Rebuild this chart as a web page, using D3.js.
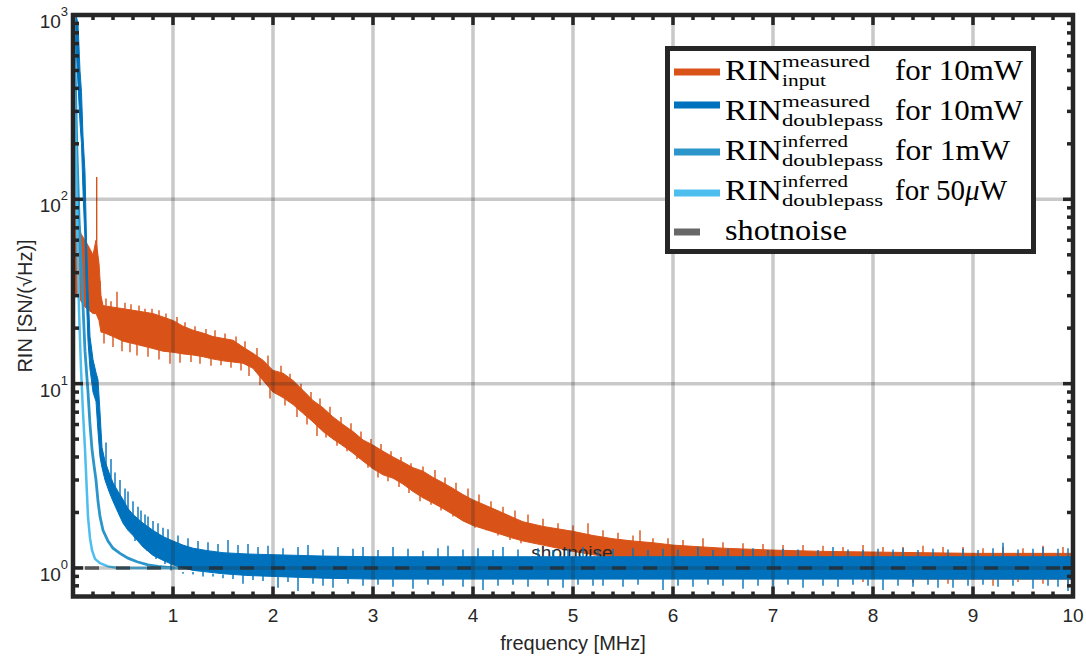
<!DOCTYPE html>
<html>
<head>
<meta charset="utf-8">
<script src="https://cdn.jsdelivr.net/npm/d3@7"></script>
<style>
  body { margin: 0; background: #fff; }
  svg { display: block; }
</style>
</head>
<body>
<svg id="chart" width="1086" height="659"></svg>
<script>
// RIN input (10mW), envelope of the noisy trace
const orangeF  = [0.003, 0.01, 0.05, 0.08, 0.12, 0.16, 0.2, 0.23, 0.26, 0.28, 0.3, 0.4, 0.5, 0.6, 0.7, 0.8, 0.9, 1.0, 1.1, 1.2, 1.3, 1.4, 1.5, 1.6, 1.7, 1.8, 1.9, 2.0, 2.1, 2.2, 2.3, 2.4, 2.5, 2.6, 2.7, 2.8, 2.9, 3.0, 3.1, 3.2, 3.3, 3.4, 3.5, 3.6, 3.7, 3.8, 3.9, 4.0, 4.2, 4.4, 4.5, 4.7, 5.0, 5.2, 5.4, 5.6, 5.8, 6.0, 6.5, 7.0, 7.5, 8.0, 8.5, 9.0, 10]
const orangeLo = [5.8, 30, 30, 28, 26, 25, 24, 24, 22, 19, 19, 18, 17, 16.5, 16, 15.5, 15, 14.8, 14.5, 14.3, 14, 13.6, 13.3, 13.1, 12.9, 12.1, 10.4, 9.0, 8.4, 7.7, 6.9, 6.2, 5.5, 5.0, 4.6, 4.2, 3.8, 3.45, 3.2, 3.07, 2.85, 2.6, 2.4, 2.25, 2.1, 1.95, 1.8, 1.7, 1.57, 1.45, 1.4, 1.33, 1.23, 1.18, 1.13, 1.1, 1.07, 1.03, 0.97, 0.93, 0.9, 0.88, 0.87, 0.87, 0.87]
const orangeHi = [70, 80, 80, 65, 60, 55, 50, 60, 45, 30, 26.5, 26, 25.5, 25, 24.5, 24, 23, 22, 20.5, 19.5, 18.8, 18, 17.6, 17.2, 15.8, 14.6, 13.4, 11.8, 11.4, 10.4, 9.2, 8.1, 7.4, 6.6, 6.0, 5.5, 4.95, 4.64, 4.3, 4.0, 3.75, 3.5, 3.35, 3.1, 2.9, 2.7, 2.5, 2.34, 2.1, 1.88, 1.78, 1.68, 1.58, 1.5, 1.44, 1.4, 1.37, 1.33, 1.28, 1.25, 1.23, 1.22, 1.21, 1.2, 1.2]
// noise spikes: [frequency, base, tip]
const orangeSpikes = [
  [0.03, 40, 260], [0.237, 40, 132], [0.27, 25, 36],
  [0.33, 24, 29], [0.38, 24, 28], [0.44, 24, 31.5], [0.52, 23, 27.5], [0.58, 23, 27], [0.66, 22, 26.5], [0.72, 22, 25.5], [0.79, 21, 25.5], [0.86, 21, 25], [0.93, 20, 24], [1.04, 19, 23], [1.12, 18, 21.5], [1.22, 18, 20.5], [1.33, 17, 19.8], [1.42, 17, 19.5], [1.52, 16, 18.7], [1.63, 15.5, 18], [1.72, 15, 17], [1.84, 13.5, 15.6], [1.95, 12, 14.2],
  [0.31, 21, 16.5], [0.4, 20, 15.8], [0.49, 19, 15], [0.57, 19, 14.8], [0.64, 18, 14.2], [0.75, 18, 14], [0.86, 17, 13.5], [0.97, 16, 12.8], [1.07, 16, 13], [1.18, 16, 13.1], [1.27, 15.5, 12.8], [1.38, 15, 12.5], [1.48, 15, 12.6], [1.58, 14.5, 12.2], [1.68, 14, 11.8], [1.76, 13, 11], [1.87, 12, 9.8], [1.97, 10, 8.3],
  [2.08, 10.5, 12.5], [2.17, 9.5, 11.3], [2.28, 8.5, 10], [2.38, 7.5, 9], [2.47, 7, 8.3], [2.57, 6.2, 7.5], [2.68, 5.6, 6.6], [2.78, 5.2, 6.1], [2.88, 4.7, 5.5], [2.98, 4.2, 5.0], [3.08, 3.9, 4.7], [3.18, 3.6, 4.3], [3.28, 3.3, 4.0], [3.38, 3.1, 3.7], [3.5, 2.9, 3.55], [3.62, 2.7, 3.4], [3.72, 2.5, 3.1], [3.83, 2.4, 2.9], [3.95, 2.2, 2.7], [4.06, 2.05, 2.5], [4.18, 1.95, 2.3], [4.3, 1.8, 2.15], [4.42, 1.7, 2.05],
  [2.12, 9, 7.6], [2.24, 8, 6.6], [2.34, 7, 6.0], [2.44, 6.5, 5.2], [2.53, 6, 5.1], [2.64, 5.5, 4.6], [2.74, 5, 4.3], [2.84, 4.6, 3.9], [2.95, 4.2, 3.5], [3.05, 3.7, 3.1], [3.15, 3.5, 2.95], [3.26, 3.2, 2.75], [3.36, 3.0, 2.55], [3.47, 2.8, 2.3], [3.58, 2.6, 2.2], [3.68, 2.45, 2.05], [3.8, 2.3, 1.9], [3.9, 2.15, 1.8], [4.02, 2.0, 1.65], [4.13, 1.9, 1.6], [4.25, 1.8, 1.5], [4.37, 1.7, 1.42], [4.48, 1.6, 1.36],
  [4.55, 1.6, 1.95], [4.7, 1.55, 1.85], [4.85, 1.5, 1.75], [5.0, 1.45, 1.7], [5.15, 1.4, 1.75], [5.3, 1.35, 1.6], [5.45, 1.35, 1.55], [5.6, 1.3, 1.5], [5.67, 1.3, 1.6], [5.8, 1.25, 1.45], [5.95, 1.25, 1.45], [6.1, 1.2, 1.42], [6.3, 1.2, 1.45], [6.5, 1.2, 1.38], [6.7, 1.18, 1.36], [6.9, 1.17, 1.35], [7.1, 1.17, 1.33], [7.3, 1.17, 1.33], [7.5, 1.16, 1.32], [7.7, 1.16, 1.3], [7.9, 1.16, 1.33], [8.1, 1.15, 1.3], [8.3, 1.15, 1.3], [8.5, 1.15, 1.32], [8.7, 1.15, 1.3], [8.9, 1.15, 1.3], [9.1, 1.15, 1.28], [9.3, 1.15, 1.3], [9.5, 1.15, 1.28], [9.7, 1.15, 1.32], [9.9, 1.15, 1.3],
  [7.9, 0.9, 0.84], [8.4, 0.9, 0.83], [8.75, 0.9, 0.82], [9.2, 0.9, 0.8], [9.45, 0.9, 0.84], [9.7, 0.9, 0.82], [9.95, 0.9, 0.81]
]

// RIN doublepass measured (10mW)
const blueF  = [0.03, 0.05, 0.07, 0.085, 0.1, 0.12, 0.135, 0.15, 0.17, 0.2, 0.23, 0.25, 0.27, 0.29, 0.32, 0.36, 0.4, 0.45, 0.5, 0.55, 0.6, 0.7, 0.8, 0.9, 1.0, 1.1, 1.2, 1.35, 1.5, 1.75, 2.0, 2.5, 3, 4, 5, 6, 7, 8, 9, 10]
const blueLo = [700, 420, 260, 200, 110, 60, 28, 17, 12, 9, 8, 5.5, 4, 3.5, 3.0, 2.6, 2.3, 2.0, 1.75, 1.6, 1.5, 1.3, 1.17, 1.1, 1.04, 1.0, 0.97, 0.95, 0.93, 0.91, 0.9, 0.88, 0.87, 0.87, 0.87, 0.87, 0.87, 0.87, 0.87, 0.87]
const blueHi = [1000, 900, 500, 380, 220, 140, 60, 32, 18, 13.5, 11.5, 10.5, 7, 4.5, 3.8, 3.3, 2.9, 2.6, 2.35, 2.1, 1.95, 1.75, 1.6, 1.48, 1.4, 1.33, 1.28, 1.24, 1.21, 1.19, 1.18, 1.16, 1.15, 1.15, 1.15, 1.15, 1.15, 1.15, 1.15, 1.15]
const blueSpikes = [
  [0.33, 3.5, 4.8], [0.38, 3.1, 3.9], [0.42, 2.6, 3.3], [0.47, 2.4, 3.0], [0.52, 2.1, 2.7], [0.55, 1.9, 2.6], [0.6, 1.8, 2.3], [0.65, 1.7, 2.15], [0.68, 1.6, 2.05], [0.72, 1.55, 1.95], [0.75, 1.5, 1.9], [0.8, 1.4, 1.8], [0.85, 1.35, 1.75], [0.9, 1.3, 1.65], [0.95, 1.3, 1.62],
  [0.62, 1.6, 1.4], [0.74, 1.4, 1.24], [0.83, 1.3, 1.12], [0.92, 1.2, 1.05], [0.98, 1.15, 0.97],
  [1.05, 1.1, 1.5], [1.15, 1.1, 1.45], [1.25, 1.1, 1.4], [1.35, 1.1, 1.38], [1.45, 1.1, 1.35], [1.55, 1.1, 1.42], [1.65, 1.1, 1.33], [1.75, 1.1, 1.35], [1.85, 1.1, 1.3], [1.95, 1.1, 1.32],
  [2.1, 1.1, 1.28], [2.25, 1.1, 1.3], [2.35, 1.1, 1.33], [2.5, 1.1, 1.26], [2.65, 1.1, 1.3], [2.8, 1.1, 1.27], [2.9, 1.1, 1.3], [3.05, 1.1, 1.25], [3.2, 1.1, 1.3], [3.35, 1.1, 1.27], [3.5, 1.1, 1.24], [3.65, 1.1, 1.28], [3.75, 1.1, 1.32], [3.9, 1.1, 1.26], [4.05, 1.1, 1.28], [4.2, 1.1, 1.25], [4.3, 1.1, 1.3], [4.45, 1.1, 1.26], [4.65, 1.1, 1.28], [4.8, 1.1, 1.25], [4.95, 1.1, 1.27], [5.1, 1.1, 1.3], [5.25, 1.1, 1.25], [5.4, 1.1, 1.27], [5.6, 1.1, 1.28], [5.75, 1.1, 1.25], [5.9, 1.1, 1.27], [6.05, 1.1, 1.26], [6.25, 1.1, 1.3], [6.4, 1.1, 1.25], [6.55, 1.1, 1.27], [6.7, 1.1, 1.26], [6.8, 1.1, 1.28], [6.95, 1.1, 1.25], [7.1, 1.1, 1.27], [7.25, 1.1, 1.26], [7.45, 1.1, 1.25], [7.6, 1.1, 1.3], [7.75, 1.1, 1.26], [7.9, 1.1, 1.25], [8.05, 1.1, 1.27], [8.2, 1.1, 1.26], [8.3, 1.1, 1.28], [8.45, 1.1, 1.25], [8.6, 1.1, 1.27], [8.75, 1.1, 1.26], [8.9, 1.1, 1.27], [9.05, 1.1, 1.25], [9.2, 1.1, 1.28], [9.3, 1.1, 1.37], [9.45, 1.1, 1.26], [9.6, 1.1, 1.27], [9.7, 1.1, 1.3], [9.85, 1.1, 1.27], [9.95, 1.1, 1.28],
  [1.1, 0.95, 0.93], [1.2, 0.95, 0.92], [1.3, 0.95, 0.9], [1.4, 0.93, 0.9], [1.5, 0.92, 0.88], [1.6, 0.92, 0.87], [1.7, 0.92, 0.82], [1.8, 0.92, 0.86], [1.9, 0.92, 0.85], [2.05, 0.9, 0.78], [2.15, 0.9, 0.84], [2.25, 0.9, 0.75], [2.4, 0.9, 0.82], [2.5, 0.9, 0.8], [2.6, 0.9, 0.78], [2.75, 0.9, 0.82], [2.9, 0.9, 0.8], [3.05, 0.9, 0.81], [3.2, 0.9, 0.79], [3.4, 0.9, 0.77], [3.55, 0.9, 0.81], [3.7, 0.9, 0.8], [3.9, 0.9, 0.79], [4.1, 0.9, 0.76], [4.25, 0.9, 0.8], [4.4, 0.9, 0.81], [4.55, 0.9, 0.79], [4.75, 0.9, 0.8], [4.9, 0.9, 0.78], [5.05, 0.9, 0.81], [5.2, 0.9, 0.8], [5.3, 0.9, 0.8], [5.5, 0.9, 0.79], [5.65, 0.9, 0.81], [5.9, 0.9, 0.76], [6.05, 0.9, 0.8], [6.2, 0.9, 0.79], [6.35, 0.9, 0.81], [6.5, 0.9, 0.8], [6.7, 0.9, 0.77], [6.85, 0.9, 0.8], [7.0, 0.9, 0.79], [7.15, 0.9, 0.81], [7.3, 0.9, 0.78], [7.5, 0.9, 0.8], [7.65, 0.9, 0.79], [7.8, 0.9, 0.81], [7.95, 0.9, 0.8], [8.1, 0.9, 0.76], [8.25, 0.9, 0.8], [8.4, 0.9, 0.79], [8.55, 0.9, 0.81], [8.65, 0.9, 0.78], [8.8, 0.9, 0.78], [8.95, 0.9, 0.8], [9.1, 0.9, 0.81], [9.25, 0.9, 0.79], [9.4, 0.9, 0.8], [9.6, 0.9, 0.77], [9.75, 0.9, 0.8], [9.85, 0.9, 0.79], [9.95, 0.9, 0.75]
]

// RIN doublepass inferred (1mW, 50uW)
const midF = [0.01, 0.025, 0.04, 0.06, 0.09, 0.12, 0.15, 0.17, 0.19, 0.21, 0.23, 0.25, 0.27, 0.3, 0.35, 0.4, 0.47, 0.55, 0.64, 0.75, 0.85, 1.0, 10]
const midV = [1000, 400, 180, 80, 35, 15, 9, 6, 4.4, 3.6, 3.0, 2.3, 1.9, 1.6, 1.4, 1.28, 1.2, 1.13, 1.08, 1.04, 1.02, 1.0, 1.0]
const lightF = [0.005, 0.02, 0.04, 0.06, 0.08, 0.1, 0.12, 0.14, 0.15, 0.17, 0.19, 0.22, 0.27, 0.35, 0.45, 10]
const lightV = [1000, 300, 80, 25, 12, 7, 4.4, 2.5, 1.9, 1.45, 1.25, 1.12, 1.06, 1.02, 1.0, 1.0]

const shotNoise = 1
const xTicks = [1, 2, 3, 4, 5, 6, 7, 8, 9, 10]
const yDecades = [0, 1, 2, 3]

const colors = { orange: '#D95319', blue: '#0072BD', mid: '#2C96CB', light: '#4DBEEE', ax: '#262626' }

function draw() {
  const svg = d3.select('#chart')
  const x = d3.scaleLinear().domain([0, 10]).range([73, 1073])
  const y = d3.scaleLog().domain([0.7, 1000]).range([596.5, 15])
  const left = x(0), right = x(10), top = y(1000), bottom = y(0.7)

  svg.append('rect').attr('width', 1086).attr('height', 659).attr('fill', '#fff')

  svg.append('defs').append('clipPath').attr('id', 'clip')
    .append('rect').attr('x', left).attr('y', top).attr('width', right - left).attr('height', bottom - top)
  const plot = svg.append('g').attr('clip-path', 'url(#clip)')

  const band = (f, lo, hi) => d3.area()
    .x((d, i) => x(f[i])).y0((d, i) => y(lo[i])).y1((d, i) => y(hi[i]))(f)
  const line = (f, v) => d3.line().x((d, i) => x(f[i])).y((d, i) => y(v[i]))(f)

  function spikes(list, color) {
    plot.append('g').selectAll('line').data(list).join('line')
      .attr('x1', d => x(d[0])).attr('x2', d => x(d[0]))
      .attr('y1', d => y(d[1])).attr('y2', d => y(d[2]))
      .attr('stroke', color).attr('stroke-width', 1.4)
  }

  // orange trace
  plot.append('path').attr('d', band(orangeF, orangeLo, orangeHi))
    .attr('fill', colors.orange).attr('stroke', colors.orange).attr('stroke-width', 1)
  spikes(orangeSpikes, colors.orange)

  // shotnoise label sits under the blue traces
  plot.append('text').attr('x', 572).attr('y', 559).attr('text-anchor', 'middle')
    .attr('font-family', 'Liberation Sans, Arial, sans-serif').attr('font-size', 19)
    .attr('fill', colors.ax).text('shotnoise')

  plot.append('path').attr('d', line(midF, midV))
    .attr('fill', 'none').attr('stroke', colors.mid).attr('stroke-width', 2.8)
  plot.append('path').attr('d', line(lightF, lightV))
    .attr('fill', 'none').attr('stroke', colors.light).attr('stroke-width', 2.5)

  plot.append('path').attr('d', band(blueF, blueLo, blueHi))
    .attr('fill', colors.blue).attr('stroke', colors.blue).attr('stroke-width', 1)
  spikes(blueSpikes, colors.blue)

  // grid drawn over the data
  const grid = svg.append('g').attr('stroke', colors.ax).attr('stroke-opacity', 0.25).attr('stroke-width', 3.5)
  grid.selectAll('.gx').data(xTicks.slice(0, -1)).join('line')
    .attr('x1', d => x(d)).attr('x2', d => x(d)).attr('y1', top).attr('y2', bottom)
  grid.selectAll('.gy').data(yDecades.slice(0, -1)).join('line')
    .attr('x1', left).attr('x2', right).attr('y1', d => y(Math.pow(10, d))).attr('y2', d => y(Math.pow(10, d)))

  // shotnoise dashed line
  svg.append('line').attr('x1', left).attr('x2', right).attr('y1', y(shotNoise)).attr('y2', y(shotNoise))
    .attr('stroke', colors.ax).attr('stroke-opacity', 0.7).attr('stroke-width', 3.5)
    .attr('stroke-dasharray', '14,17').attr('stroke-dashoffset', -12)

  // ticks, pointing inward on all four sides
  const ticks = svg.append('g').attr('stroke', colors.ax).attr('stroke-width', 3.5)
  const xMinor = d3.range(1, 50).map(i => i / 5)
  const isInt = d => Math.abs(d - Math.round(d)) < 1e-6
  ticks.selectAll('.tx').data(xMinor).join('line')
    .attr('x1', d => x(d)).attr('x2', d => x(d))
    .attr('y1', bottom).attr('y2', d => bottom - (isInt(d) ? 10 : 5))
  ticks.selectAll('.tt').data(xMinor).join('line')
    .attr('x1', d => x(d)).attr('x2', d => x(d))
    .attr('y1', top).attr('y2', d => top + (isInt(d) ? 10 : 5))
  const yMinor = [0.8, 0.9]
  yDecades.slice(0, -1).forEach(p => d3.range(2, 10).forEach(m => yMinor.push(m * Math.pow(10, p))))
  const yMajor = yDecades.map(p => Math.pow(10, p))
  const yAll = yMinor.map(v => [v, 6]).concat(yMajor.map(v => [v, 10]))
  ticks.selectAll('.tl').data(yAll).join('line')
    .attr('x1', left).attr('x2', d => left + d[1]).attr('y1', d => y(d[0])).attr('y2', d => y(d[0]))
  ticks.selectAll('.tr').data(yAll).join('line')
    .attr('x1', right).attr('x2', d => right - d[1]).attr('y1', d => y(d[0])).attr('y2', d => y(d[0]))

  // axes box
  svg.append('rect').attr('x', left).attr('y', top).attr('width', right - left).attr('height', bottom - top)
    .attr('fill', 'none').attr('stroke', colors.ax).attr('stroke-width', 4.5)

  // tick labels
  const sans = 'Liberation Sans, Arial, Helvetica, sans-serif'
  svg.append('g').selectAll('text').data(xTicks).join('text')
    .attr('x', d => x(d)).attr('y', 622).attr('text-anchor', 'middle')
    .attr('font-family', sans).attr('font-size', 19).attr('fill', colors.ax).text(d => d)
  const yl = svg.append('g').selectAll('text').data(yDecades).join('text')
    .attr('x', 68).attr('y', d => y(Math.pow(10, d)) + 13).attr('text-anchor', 'end')
    .attr('font-family', sans).attr('font-size', 19).attr('fill', colors.ax)
  yl.append('tspan').text('10')
  yl.append('tspan').attr('dy', -12).attr('font-size', 13).text(d => d)

  // axis labels
  svg.append('text').attr('x', x(5)).attr('y', 650).attr('text-anchor', 'middle')
    .attr('font-family', sans).attr('font-size', 20).attr('fill', colors.ax).text('frequency [MHz]')
  svg.append('text').attr('transform', 'translate(32,306) rotate(-90)').attr('text-anchor', 'middle')
    .attr('font-family', sans).attr('font-size', 20).attr('fill', colors.ax).text('RIN [SN/(\u221AHz)]')

  // legend
  const serif = 'Liberation Serif, Times New Roman, serif'
  const lg = svg.append('g')
  lg.append('rect').attr('x', 667.5).attr('y', 48.5).attr('width', 366).attr('height', 203)
    .attr('fill', '#fff').attr('stroke', colors.ax).attr('stroke-width', 5)
  const entries = [
    { c: colors.orange, sup: 'measured', sub: 'input', tail: 'for 10mW', base: 80, py: 72, tw: 128 },
    { c: colors.blue, sup: 'measured', sub: 'doublepass', tail: 'for 10mW', base: 120, py: 105, tw: 128 },
    { c: colors.mid, sup: 'inferred', sub: 'doublepass', tail: 'for 1mW', base: 160, py: 152, tw: 115 },
    { c: colors.light, sup: 'inferred', sub: 'doublepass', tail: 'for 50', base: 200, py: 193, tw: 127 }
  ]
  const scriptW = { measured: 88, inferred: 66, input: 44, doublepass: 101 }
  entries.forEach(e => {
    lg.append('line').attr('x1', 674).attr('x2', 720).attr('y1', e.py).attr('y2', e.py)
      .attr('stroke', e.c).attr('stroke-width', 7)
    lg.append('text').attr('x', 725).attr('y', e.base).attr('font-family', serif).attr('font-size', 29)
      .attr('textLength', 57).attr('lengthAdjust', 'spacingAndGlyphs').attr('fill', '#000').text('RIN')
    lg.append('text').attr('x', 782).attr('y', e.base - 13).attr('font-family', serif).attr('font-size', 17)
      .attr('textLength', scriptW[e.sup]).attr('lengthAdjust', 'spacingAndGlyphs').attr('fill', '#000').text(e.sup)
    lg.append('text').attr('x', 782).attr('y', e.base + 6).attr('font-family', serif).attr('font-size', 17)
      .attr('textLength', scriptW[e.sub]).attr('lengthAdjust', 'spacingAndGlyphs').attr('fill', '#000').text(e.sub)
    const t = lg.append('text').attr('x', 895).attr('y', e.base).attr('font-family', serif).attr('font-size', 29)
      .attr('fill', '#000')
    if (e.tail === 'for 50') {
      t.append('tspan').text('for 50')
      t.append('tspan').attr('font-style', 'italic').text('\u03BC')
      t.append('tspan').text('W')
    } else {
      t.attr('textLength', e.tw).attr('lengthAdjust', 'spacingAndGlyphs').text(e.tail)
    }
  })
  lg.append('line').attr('x1', 674).attr('x2', 700).attr('y1', 232).attr('y2', 232)
    .attr('stroke', colors.ax).attr('stroke-opacity', 0.7).attr('stroke-width', 7)
  lg.append('text').attr('x', 725).attr('y', 240).attr('font-family', serif).attr('font-size', 29)
    .attr('textLength', 122).attr('lengthAdjust', 'spacingAndGlyphs').attr('fill', '#000').text('shotnoise')
}

document.addEventListener('DOMContentLoaded', draw, false)
</script>
</body>
</html>
